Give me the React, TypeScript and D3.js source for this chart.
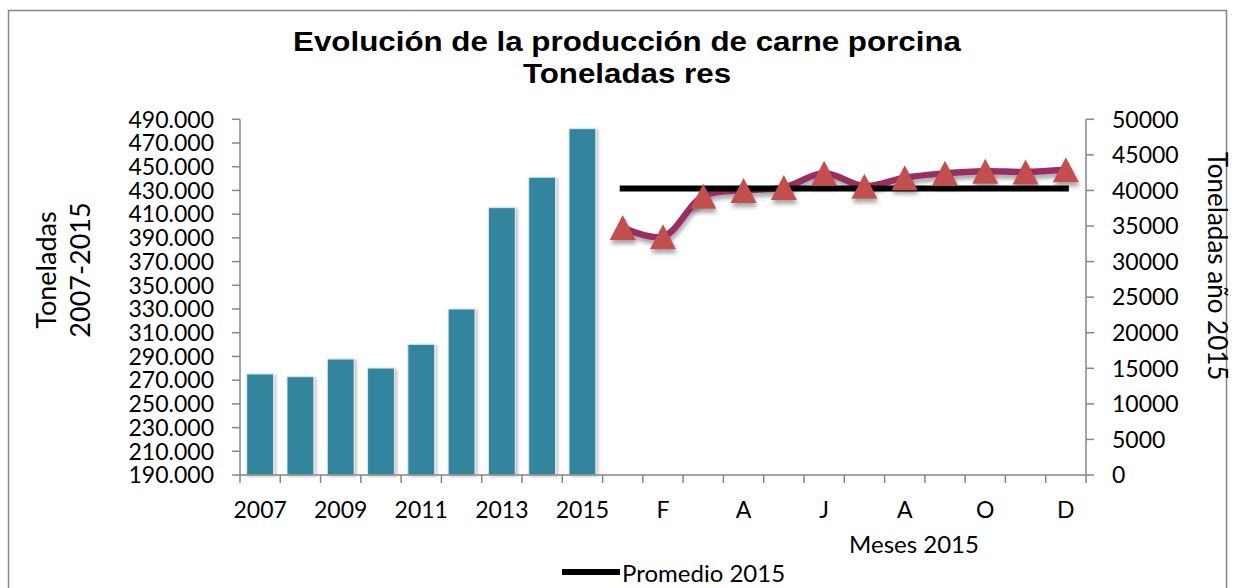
import React from "react";
import * as d3 from "d3";

// ---------- data ----------
const years = ["2007", "2008", "2009", "2010", "2011", "2012", "2013", "2014", "2015"];
const annualTons = [275200, 272900, 287800, 280200, 300200, 330000, 415500, 441100, 482100];
const months = ["E", "F", "M", "A", "M", "J", "J", "A", "S", "O", "N", "D"];
const monthlyTons2015 = [34800, 33500, 39200, 40000, 40400, 42400, 40600, 41800, 42400, 42700, 42600, 42900];
const promedio2015 = [40275, 40275, 40275, 40275, 40275, 40275, 40275, 40275, 40275, 40275, 40275, 40275];
const leftTicks = [190000, 210000, 230000, 250000, 270000, 290000, 310000, 330000, 350000, 370000, 390000, 410000, 430000, 450000, 470000, 490000];
const rightTicks = [0, 5000, 10000, 15000, 20000, 25000, 30000, 35000, 40000, 45000, 50000];
const categories = [...years, ...months];

const W = 1235;
const H = 588;
const plot = { left: 240, right: 1086, top: 119.3, bottom: 475 };
const AXIS = "#868686";
const BAR = "#31859C";
const LINE = "#9A2F62";
const MARK = "#C0504D";
const FONT = "Lato, 'Open Sans', sans-serif";

const esLocale = d3.formatLocale({ decimal: ",", thousands: ".", grouping: [3], currency: ["$", ""] });
const fmtLeft = esLocale.format(",.0f");

export default function App() {
  const x = d3
    .scaleBand<number>()
    .domain(d3.range(categories.length))
    .range([plot.left, plot.right])
    .paddingInner(0)
    .paddingOuter(0);
  const bw = x.bandwidth();
  const cx = (i: number) => (x(i) as number) + bw / 2;
  const yL = d3.scaleLinear().domain([190000, 490000]).range([plot.bottom, plot.top]);
  const yR = d3.scaleLinear().domain([0, 50000]).range([plot.bottom, plot.top]);
  const barW = bw / 1.5;

  const lineGen = d3
    .line<number>()
    .x((_, i) => cx(years.length + i))
    .y((d) => yR(d))
    .curve(d3.curveCatmullRom.alpha(0.5));
  const avgGen = d3
    .line<number>()
    .x((_, i) => cx(years.length + i))
    .y((d) => yR(d));

  const tri = "M0,-12.5L13,12.5L-13,12.5Z";

  return (
    <svg
      width={W}
      height={H}
      style={{ position: "absolute", left: 0, top: 0, background: "#fff" }}
      fontFamily={FONT}
    >
      <defs>
        <filter id="shadow" x="-30%" y="-30%" width="160%" height="180%">
          <feDropShadow dx="1" dy="4" stdDeviation="2" floodColor="#000" floodOpacity="0.35" />
        </filter>
        <filter id="barShadow" x="-30%" y="-10%" width="160%" height="120%">
          <feDropShadow dx="2" dy="1" stdDeviation="1.5" floodColor="#000" floodOpacity="0.25" />
        </filter>
      </defs>
      <rect x={8.5} y={10.5} width={1218} height={600} fill="#fff" stroke={AXIS} strokeWidth={1.5} />

      {/* title */}
      <g transform="translate(627,0) scale(1.16,1)" fontFamily="'Liberation Sans', Arial, sans-serif" fontWeight="bold" fontSize={27} textAnchor="middle" fill="#000">
        <text x={0} y={50.7}>Evolución de la producción de carne porcina</text>
        <text x={0} y={82.7}>Toneladas res</text>
      </g>

      {/* bars */}
      <g filter="url(#barShadow)">
        {annualTons.map((v, i) => (
          <rect
            key={years[i]}
            x={cx(i) - barW / 2}
            y={yL(v)}
            width={barW}
            height={plot.bottom - yL(v)}
            fill={BAR}
            stroke="#d9ecf1"
            strokeWidth={1}
          />
        ))}
      </g>

      {/* left axis */}
      <line x1={plot.left} x2={plot.left} y1={plot.top} y2={plot.bottom} stroke={AXIS} strokeWidth={1.5} />
      {leftTicks.map((t) => (
        <g key={t}>
          <line x1={plot.left - 8} x2={plot.left} y1={yL(t)} y2={yL(t)} stroke={AXIS} strokeWidth={1.5} />
          <text x={214} y={yL(t)} dy="0.36em" textAnchor="end" fontSize={23} fill="#000">
            {fmtLeft(t)}
          </text>
        </g>
      ))}

      {/* right axis */}
      <line x1={plot.right} x2={plot.right} y1={plot.top} y2={plot.bottom} stroke={AXIS} strokeWidth={1.5} />
      {rightTicks.map((t) => (
        <g key={t}>
          <line x1={plot.right} x2={plot.right + 8} y1={yR(t)} y2={yR(t)} stroke={AXIS} strokeWidth={1.5} />
          <text x={1112} y={yR(t)} dy="0.36em" textAnchor="start" fontSize={23} fill="#000">
            {t}
          </text>
        </g>
      ))}

      {/* bottom axis */}
      <line x1={plot.left} x2={plot.right} y1={plot.bottom} y2={plot.bottom} stroke={AXIS} strokeWidth={1.5} />
      {d3.range(categories.length + 1).map((i) => {
        const xx = plot.left + i * bw;
        return <line key={i} x1={xx} x2={xx} y1={plot.bottom} y2={plot.bottom + 8} stroke={AXIS} strokeWidth={1.5} />;
      })}
      {categories.map((c, i) =>
        i % 2 === 0 ? (
          <text key={i} x={cx(i)} y={518.3} textAnchor="middle" fontSize={23} fill="#000">
            {c}
          </text>
        ) : null
      )}

      {/* monthly line */}
      <g filter="url(#shadow)">
        <path d={lineGen(monthlyTons2015) || ""} fill="none" stroke={LINE} strokeWidth={6.5} strokeLinejoin="round" strokeLinecap="round" />
      </g>
      <path d={avgGen(promedio2015) || ""} fill="none" stroke="#000" strokeWidth={6} strokeLinecap="square" />
      <g filter="url(#shadow)">
        {monthlyTons2015.map((v, i) => (
          <path key={i} d={tri} transform={`translate(${cx(years.length + i)},${yR(v)})`} fill={MARK} />
        ))}
      </g>

      {/* axis titles */}
      <text transform="translate(56,270) rotate(-90)" textAnchor="middle" fontSize={27} fill="#000">
        Toneladas
      </text>
      <text transform="translate(90,270) rotate(-90)" textAnchor="middle" fontSize={27} fill="#000">
        2007-2015
      </text>
      <text transform="translate(1208,266) rotate(90)" textAnchor="middle" fontSize={26} fill="#000">
        Toneladas año 2015
      </text>
      <text x={914} y={553.3} textAnchor="middle" fontSize={24} fill="#000">
        Meses 2015
      </text>

      {/* legend */}
      <line x1={562} x2={620} y1={572} y2={572} stroke="#000" strokeWidth={6} />
      <text x={622} y={581.7} fontSize={24} fill="#000">
        Promedio 2015
      </text>
    </svg>
  );
}
